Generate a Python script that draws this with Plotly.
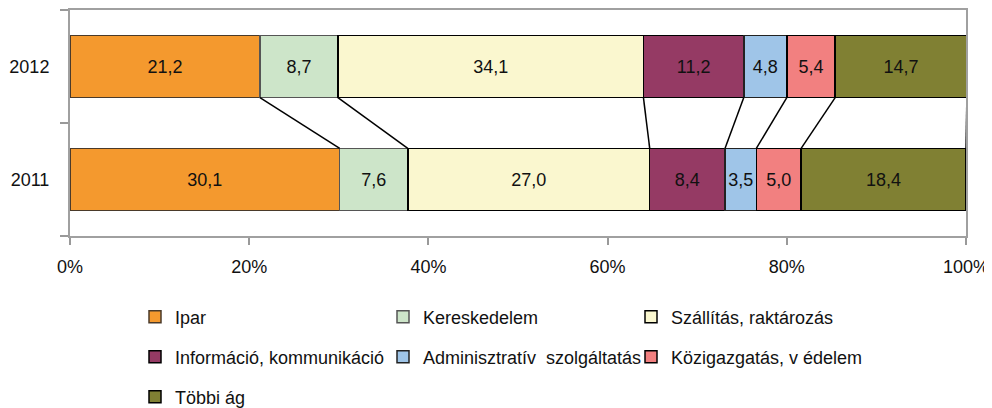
import plotly.graph_objects as go

years = ["2011", "2012"]
series_names = ["Ipar", "Kereskedelem", "Szállítás, raktározás",
                "Információ, kommunikáció", "Adminisztratív  szolgáltatás",
                "Közigazgatás, v édelem", "Többi ág"]
values_2011 = [30.1, 7.6, 27.0, 8.4, 3.5, 5.0, 18.4]
values_2012 = [21.2, 8.7, 34.1, 11.2, 4.8, 5.4, 14.7]
colors = ["#F4992E", "#CDE5C9", "#FAF7CF", "#953A64", "#9FC5E8", "#F28080", "#808033"]
line_colors = ["#4a3a2a", "#555555", "#000000", "#000000", "#222222", "#000000", "#000000"]
x_tick_vals = [0, 20, 40, 60, 80, 100]
x_tick_text = ["0%", "20%", "40%", "60%", "80%", "100%"]

FONT = "Liberation Sans Narrow, Arial Narrow, Liberation Sans, Arial, sans-serif"
FS = 18
BAR_W = 0.55
y_pos = [0, 1]  # 2011, 2012

# page body has an 8px margin: figure is sized to fit the 992x408 window
OFF = 8
W, H = 992 - OFF, 408 - OFF

legend_of = ["legend", "legend", "legend", "legend2", "legend2", "legend2", "legend3"]

fig = go.Figure()
for i, name in enumerate(series_names):
    vals = [values_2011[i], values_2012[i]]
    fig.add_trace(go.Bar(
        y=y_pos, x=vals, name=name, orientation="h", width=BAR_W,
        marker=dict(color=colors[i], line=dict(color=line_colors[i], width=1.5)),
        texttemplate="%{x:.1f}", textposition="inside", insidetextanchor="middle",
        textfont=dict(color="#111111", size=FS, family=FONT),
        constraintext="none",
        legend=legend_of[i],
        hoverinfo="skip",
    ))

# connector lines between the bars (cumulative boundaries)
cum11, cum12 = [], []
s11 = s12 = 0.0
for a, b in zip(values_2011, values_2012):
    s11 += a
    s12 += b
    cum11.append(s11)
    cum12.append(s12)
for c11, c12 in zip(cum11, cum12):
    fig.add_trace(go.Scatter(
        x=[c12, c11], y=[1 - BAR_W / 2, 0 + BAR_W / 2], mode="lines",
        line=dict(color="#000000", width=1.5), showlegend=False, hoverinfo="skip",
    ))

legend_common = dict(orientation="h", xanchor="left", yanchor="middle",
                     xref="container", yref="container",
                     entrywidth=203, entrywidthmode="pixels",
                     font=dict(family=FONT, size=FS, color="#111111"),
                     bgcolor="rgba(0,0,0,0)", itemclick=False, traceorder="normal")
lx = (135 - OFF) / W


def ly(py):
    return 1 - (py - OFF) / H


fig.update_layout(
    width=W, height=H,
    margin=dict(l=70 - OFF, r=W - (966 - OFF), t=10 - OFF, b=H - (236 - OFF)),
    paper_bgcolor="white", plot_bgcolor="white",
    barmode="stack", bargap=0.45,
    separators=", ",
    showlegend=True,
    legend=dict(x=lx, y=ly(317), **legend_common),
    legend2=dict(x=lx, y=ly(357), **legend_common),
    legend3=dict(x=lx, y=ly(397), **legend_common),
    xaxis=dict(range=[0, 100], tickvals=x_tick_vals, ticktext=x_tick_text,
               ticks="outside", ticklen=7, tickcolor="#999999", tickwidth=1.5,
               showline=True, linecolor="#a0a0a0", linewidth=2, mirror=True,
               showgrid=False, zeroline=False, ticklabelstandoff=6, automargin=False,
               tickfont=dict(family=FONT, size=FS, color="#111111")),
    yaxis=dict(range=[-0.5, 1.5], tickvals=y_pos, ticktext=years,
               ticks="", showline=True, linecolor="#a0a0a0", linewidth=2, mirror=True,
               showgrid=False, zeroline=False, ticklabelstandoff=15, automargin=False,
               minor=dict(tickmode="array", tickvals=[-0.5, 0.5, 1.5], ticks="outside",
                          ticklen=8, tickcolor="#999999", tickwidth=1.5, showgrid=False),
               tickfont=dict(family=FONT, size=FS, color="#111111")),
    font=dict(family=FONT, size=FS, color="#111111"),
)

fig.write_html("out.html")
